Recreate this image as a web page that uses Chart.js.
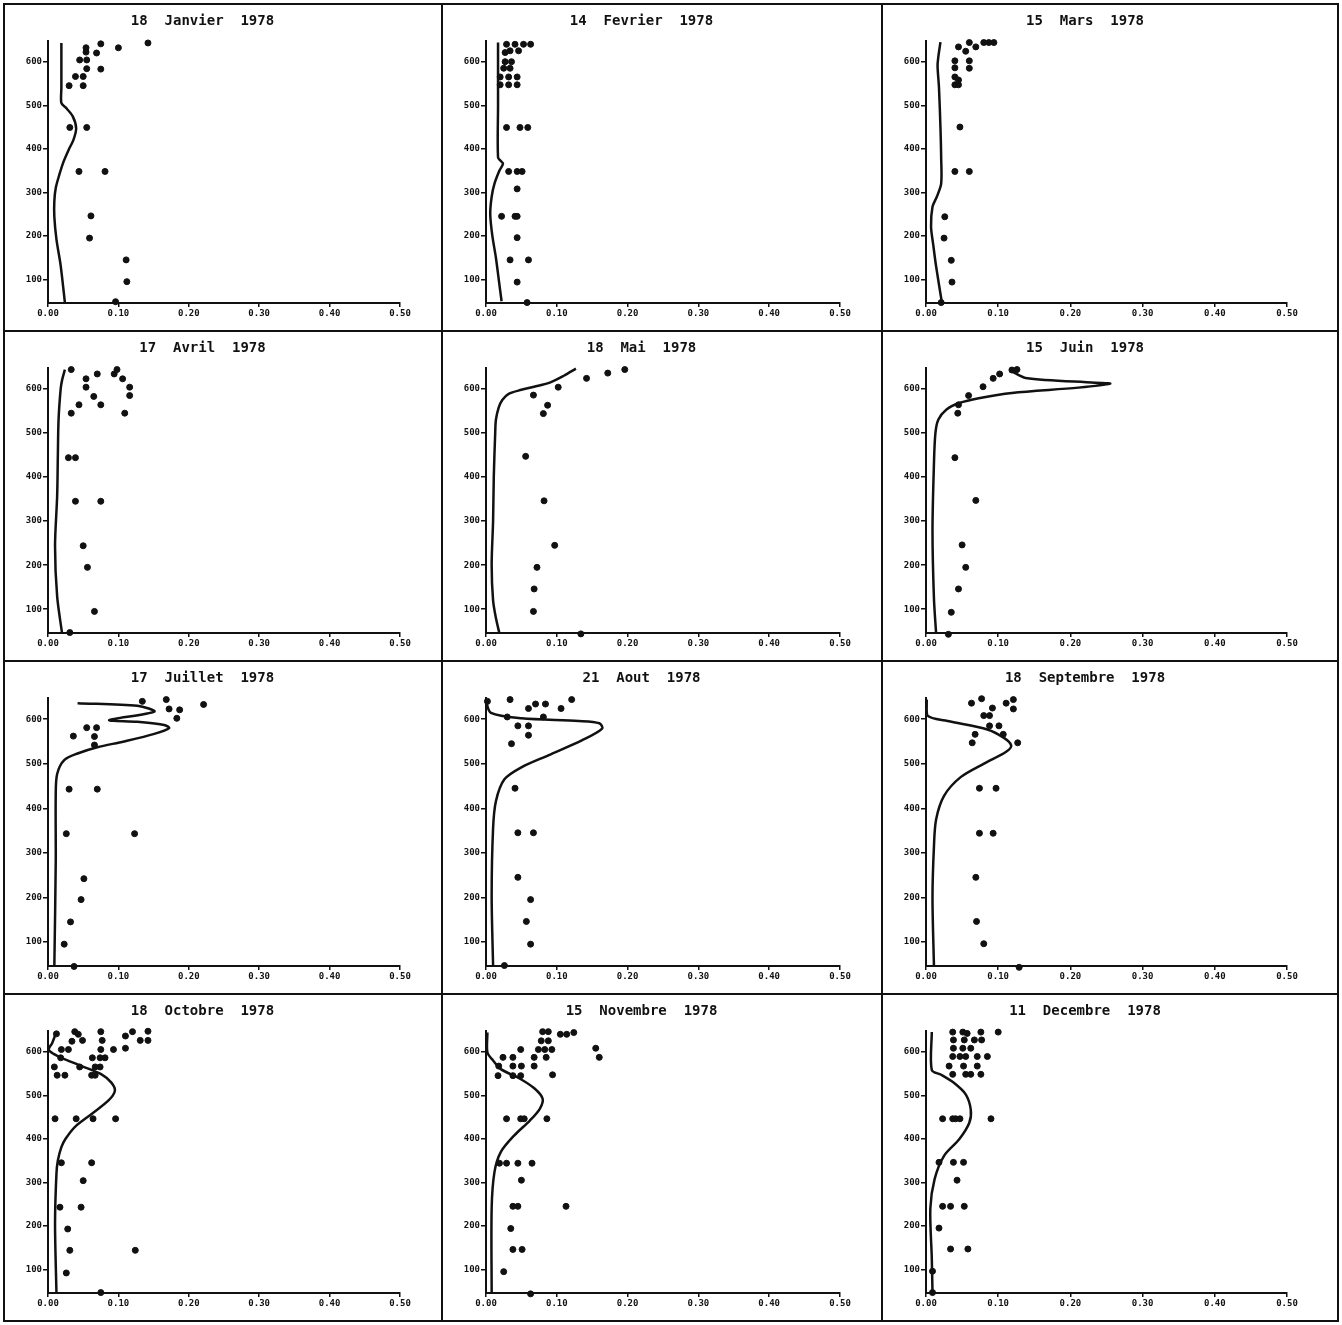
<!DOCTYPE html>
<html>
<head>
<meta charset="utf-8">
<script src="https://cdn.jsdelivr.net/npm/chart.js@4.4.1/dist/chart.umd.min.js"></script>
<style>
  body { margin: 0; background: #fff; }
  #grid {
    position: absolute; left: 3px; top: 3px;
    width: 1336px; height: 1319px; box-sizing: border-box;
    padding: 2px; gap: 2px; background: #111;
    display: grid;
    grid-template-columns: 436px 438px 454px;
    grid-template-rows: 325px 328px 331px 325px;
  }
  .cell { background: #fff; position: relative; }
</style>
</head>
<body>
<div id="grid"></div>
<script>
// Axis ticks shared by every panel
const xTicks = [0, 0.1, 0.2, 0.3, 0.4, 0.5];
const yTicks = [100, 200, 300, 400, 500, 600];

const titles = [
  '18  Janvier  1978', '14  Fevrier  1978', '15  Mars  1978',
  '17  Avril  1978', '18  Mai  1978', '15  Juin  1978',
  '17  Juillet  1978', '21  Aout  1978', '18  Septembre  1978',
  '18  Octobre  1978', '15  Novembre  1978', '11  Decembre  1978'
];

// measured points [x, y]
const janPoints = [[0.142,643],[0.100,632],[0.075,641],[0.054,632],[0.054,622],[0.069,620],[0.045,604],[0.055,604],
  [0.055,584],[0.075,583],[0.039,566],[0.050,566],[0.030,545],[0.050,545],[0.031,449],[0.055,449],[0.044,348],
  [0.081,348],[0.061,246],[0.059,195],[0.111,145],[0.112,95],[0.096,49]];
const febPoints = [[0.029,640],[0.041,640],[0.053,640],[0.063,640],[0.034,625],[0.046,625],[0.027,621],[0.027,600],
  [0.036,600],[0.025,585],[0.034,585],[0.020,565],[0.032,565],[0.044,565],[0.020,547],[0.032,547],[0.044,547],
  [0.029,449],[0.048,449],[0.059,449],[0.032,348],[0.044,348],[0.051,348],[0.044,308],[0.022,245],[0.041,245],
  [0.044,245],[0.044,196],[0.034,145],[0.060,145],[0.044,94],[0.058,47]];
const marPoints = [[0.045,634],[0.060,644],[0.069,634],[0.055,624],[0.080,644],[0.087,644],[0.094,644],[0.040,602],
  [0.060,602],[0.040,586],[0.060,585],[0.040,565],[0.045,558],[0.040,547],[0.045,547],[0.047,450],[0.040,348],
  [0.060,348],[0.026,244],[0.025,195],[0.035,144],[0.036,94],[0.021,47]];
const aprPoints = [[0.033,644],[0.054,623],[0.054,604],[0.070,634],[0.098,644],[0.094,634],[0.106,623],[0.116,604],
  [0.116,585],[0.065,583],[0.075,564],[0.044,564],[0.033,545],[0.109,545],[0.029,444],[0.039,444],[0.039,345],
  [0.075,345],[0.050,244],[0.056,195],[0.066,95],[0.031,47]];
const mayPoints = [[0.196,644],[0.172,636],[0.142,624],[0.102,604],[0.067,586],[0.087,563],[0.081,544],[0.056,447],
  [0.082,346],[0.097,245],[0.072,195],[0.068,146],[0.067,95],[0.134,44]];
const junPoints = [[0.126,644],[0.119,643],[0.102,634],[0.093,624],[0.079,605],[0.059,585],[0.045,564],[0.044,545],
  [0.040,444],[0.069,347],[0.050,246],[0.055,195],[0.045,146],[0.035,93],[0.031,43]];
const julPoints = [[0.134,640],[0.168,644],[0.172,623],[0.187,621],[0.183,602],[0.221,633],[0.055,581],[0.069,581],
  [0.036,562],[0.066,561],[0.066,542],[0.030,443],[0.070,443],[0.026,343],[0.123,343],[0.051,242],[0.047,195],
  [0.032,145],[0.023,95],[0.037,45]];
const augPoints = [[0.002,640],[0.034,644],[0.070,634],[0.084,634],[0.121,644],[0.060,624],[0.106,624],[0.081,605],
  [0.030,605],[0.045,585],[0.060,585],[0.060,564],[0.036,545],[0.041,445],[0.045,345],[0.067,345],[0.045,245],
  [0.063,195],[0.057,146],[0.063,95],[0.026,47]];
const sepPoints = [[0.063,636],[0.077,646],[0.092,625],[0.111,636],[0.121,644],[0.121,623],[0.080,608],[0.088,608],
  [0.088,585],[0.101,585],[0.068,566],[0.107,566],[0.064,547],[0.127,547],[0.074,445],[0.097,445],[0.074,344],
  [0.093,344],[0.069,245],[0.070,146],[0.080,96],[0.129,43]];
const octPoints = [[0.012,641],[0.038,646],[0.043,640],[0.049,626],[0.034,624],[0.075,646],[0.077,626],[0.110,636],
  [0.120,646],[0.131,626],[0.142,647],[0.142,626],[0.019,605],[0.029,605],[0.075,605],[0.093,605],[0.110,608],
  [0.018,586],[0.063,586],[0.074,586],[0.081,586],[0.009,565],[0.045,565],[0.067,565],[0.074,565],[0.013,546],
  [0.024,546],[0.062,546],[0.067,546],[0.010,446],[0.040,446],[0.064,446],[0.096,446],[0.019,345],[0.062,345],
  [0.050,304],[0.017,243],[0.047,243],[0.028,193],[0.031,144],[0.124,144],[0.026,92],[0.075,47]];
const novPoints = [[0.080,646],[0.088,646],[0.105,640],[0.114,640],[0.124,644],[0.078,625],[0.088,625],[0.074,605],
  [0.083,605],[0.093,605],[0.155,608],[0.049,605],[0.024,587],[0.038,587],[0.068,587],[0.085,587],[0.160,587],
  [0.018,567],[0.038,567],[0.050,567],[0.068,567],[0.017,545],[0.038,545],[0.049,545],[0.094,547],[0.029,446],
  [0.049,446],[0.054,446],[0.086,446],[0.019,344],[0.029,344],[0.045,344],[0.065,344],[0.050,305],[0.038,245],
  [0.045,245],[0.113,245],[0.035,194],[0.038,146],[0.051,146],[0.025,95],[0.063,44]];
const decPoints = [[0.037,645],[0.051,645],[0.057,642],[0.076,645],[0.100,645],[0.038,627],[0.053,627],[0.067,627],
  [0.077,627],[0.038,608],[0.051,608],[0.062,608],[0.037,589],[0.047,589],[0.055,589],[0.071,589],[0.085,589],
  [0.032,567],[0.052,567],[0.071,567],[0.037,548],[0.055,548],[0.062,548],[0.076,548],[0.023,446],[0.037,446],
  [0.041,446],[0.047,446],[0.090,446],[0.018,346],[0.038,346],[0.052,346],[0.043,305],[0.023,245],[0.034,245],
  [0.053,245],[0.018,195],[0.034,147],[0.058,147],[0.009,96],[0.009,47]];

// fitted profiles [x, y]
const janCurve = [[0.019,643],[0.019,540],[0.019,505],[0.025,495],[0.035,475],[0.040,447],[0.036,420],[0.030,400],
  [0.022,370],[0.016,340],[0.011,310],[0.009,280],[0.009,244],[0.012,192],[0.018,132],[0.024,47]];
const febCurve = [[0.017,644],[0.017,500],[0.017,380],[0.021,372],[0.024,366],[0.019,350],[0.012,320],[0.008,290],
  [0.006,250],[0.009,200],[0.014,150],[0.018,100],[0.022,50]];
const marCurve = [[0.020,645],[0.017,610],[0.016,590],[0.018,540],[0.020,450],[0.021,380],[0.021,320],[0.015,290],
  [0.009,267],[0.007,221],[0.010,180],[0.014,130],[0.022,47]];
const aprCurve = [[0.024,644],[0.020,620],[0.018,600],[0.015,530],[0.014,450],[0.013,357],[0.010,243],[0.013,129],
  [0.020,45]];
const mayCurve = [[0.127,646],[0.110,630],[0.091,615],[0.068,605],[0.050,598],[0.032,589],[0.023,575],[0.018,558],
  [0.014,530],[0.013,500],[0.011,400],[0.010,300],[0.008,200],[0.010,120],[0.014,80],[0.019,45]];
const junCurve = [[0.119,640],[0.138,625],[0.234,614],[0.255,612],[0.211,603],[0.119,591],[0.073,579],[0.046,568],
  [0.028,553],[0.017,530],[0.013,499],[0.011,430],[0.009,278],[0.011,125],[0.014,45]];
const julCurve = [[0.042,636],[0.127,630],[0.151,617],[0.087,598],[0.127,594],[0.165,587],[0.172,580],[0.151,567],
  [0.108,550],[0.070,537],[0.042,523],[0.023,508],[0.013,477],[0.011,432],[0.011,280],[0.009,45]];
const augCurve = [[0.000,640],[0.007,614],[0.050,602],[0.131,596],[0.160,591],[0.164,579],[0.136,553],[0.088,519],
  [0.050,492],[0.026,465],[0.014,416],[0.010,355],[0.008,203],[0.010,47]];
const sepCurve = [[0.001,644],[0.002,608],[0.030,596],[0.085,577],[0.108,558],[0.118,541],[0.111,527],[0.081,501],
  [0.048,470],[0.025,428],[0.014,375],[0.011,314],[0.009,199],[0.011,47]];
const octCurve = [[0.012,646],[0.006,620],[0.001,605],[0.008,595],[0.019,586],[0.048,567],[0.076,548],[0.090,529],
  [0.095,510],[0.086,488],[0.062,457],[0.038,427],[0.025,400],[0.019,381],[0.014,350],[0.012,320],[0.010,206],[0.012,47]];
const novCurve = [[0.002,644],[0.002,598],[0.010,580],[0.021,560],[0.048,538],[0.069,515],[0.080,492],[0.076,469],
  [0.062,442],[0.040,408],[0.021,370],[0.012,324],[0.008,241],[0.008,47]];
const decCurve = [[0.008,645],[0.008,558],[0.021,547],[0.039,528],[0.055,502],[0.062,467],[0.060,437],[0.046,399],
  [0.025,361],[0.012,308],[0.006,240],[0.008,127],[0.009,47]];

const pointSets = [janPoints, febPoints, marPoints, aprPoints, mayPoints, junPoints,
  julPoints, augPoints, sepPoints, octPoints, novPoints, decPoints];
const curveSets = [janCurve, febCurve, marCurve, aprCurve, mayCurve, junCurve,
  julCurve, augCurve, sepCurve, octCurve, novCurve, decCurve];

const INK = '#111';
Chart.defaults.font.family = "'DejaVu Sans Mono', monospace";
Chart.defaults.color = INK;

const toXY = arr => arr.map(p => ({ x: p[0], y: p[1] }));

const grid = document.getElementById('grid');

titles.forEach((title, i) => {
  const cell = document.createElement('div');
  cell.className = 'cell';
  const canvas = document.createElement('canvas');
  cell.appendChild(canvas);
  grid.appendChild(cell);

  const lastCol = i % 3 === 2;

  new Chart(canvas, {
    type: 'scatter',
    data: {
      datasets: [
        {
          data: toXY(curveSets[i]),
          showLine: true,
          borderColor: INK,
          borderWidth: 2.5,
          pointRadius: 0,
          tension: 0.3,
          fill: false,
          clip: false
        },
        {
          data: toXY(pointSets[i]),
          backgroundColor: INK,
          borderColor: INK,
          pointRadius: 3,
          pointHoverRadius: 3,
          clip: false
        }
      ]
    },
    options: {
      responsive: true,
      maintainAspectRatio: false,
      animation: false,
      events: [],
      layout: { padding: { left: 0, right: lastCol ? 50 : 41, top: 0, bottom: 0 } },
      plugins: {
        legend: { display: false },
        tooltip: { enabled: false },
        title: {
          display: true,
          text: title,
          color: INK,
          font: { size: 14, weight: 'bold' },
          padding: { top: 8, bottom: 11 }
        }
      },
      scales: {
        x: {
          type: 'linear',
          min: 0,
          max: 0.5,
          afterFit: s => { s.height = 27; },
          afterBuildTicks: s => { s.ticks = xTicks.map(v => ({ value: v })); },
          ticks: {
            autoSkip: false,
            maxRotation: 0,
            padding: 1,
            font: { size: 9, weight: 'bold' },
            callback: v => v.toFixed(2)
          },
          grid: { drawOnChartArea: false, drawTicks: true, tickLength: 4, color: INK, lineWidth: 1.5 },
          border: { display: true, color: INK, width: 2 }
        },
        y: {
          type: 'linear',
          min: 46,
          max: 648,
          afterFit: s => { s.width = 43; },
          afterBuildTicks: s => { s.ticks = yTicks.map(v => ({ value: v })); },
          ticks: {
            autoSkip: false,
            padding: 1,
            font: { size: 9, weight: 'bold' },
            callback: v => String(v)
          },
          grid: { drawOnChartArea: false, drawTicks: true, tickLength: 5, color: INK, lineWidth: 1.5 },
          border: { display: true, color: INK, width: 2 }
        }
      }
    }
  });
});
</script>
</body>
</html>
